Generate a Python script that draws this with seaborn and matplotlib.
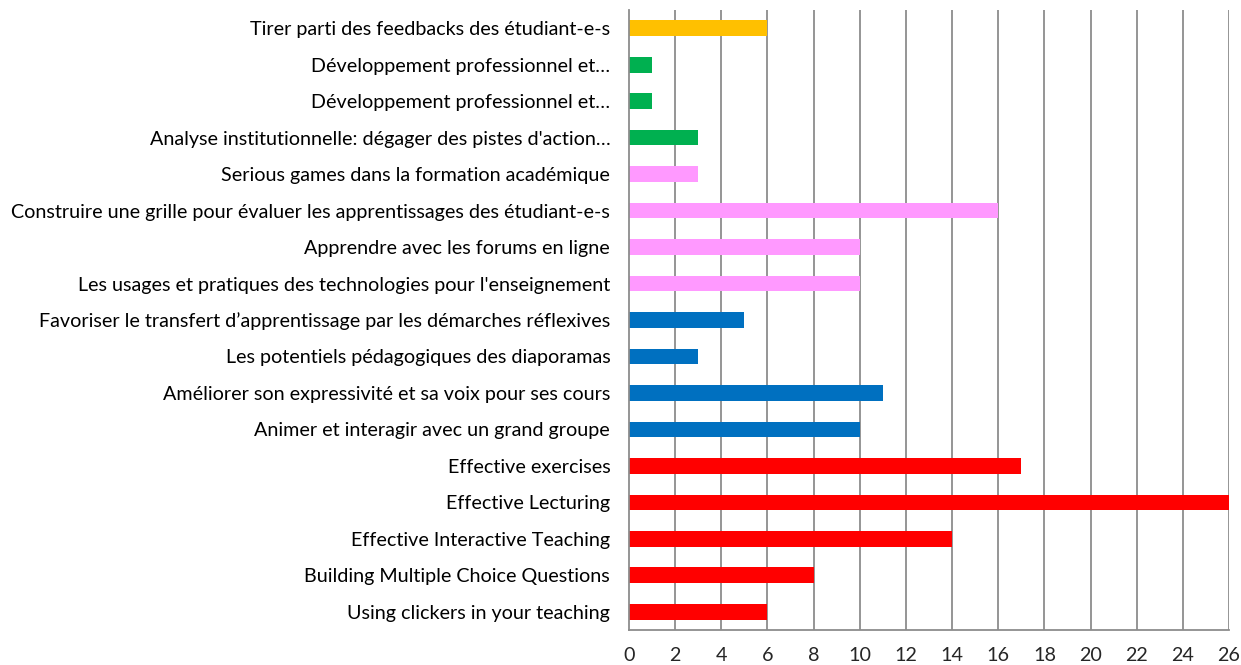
import numpy as np
import pandas as pd
import seaborn as sns
import matplotlib.pyplot as plt
from matplotlib.ticker import FixedLocator

# Categories from top to bottom
categories = [
    "Tirer parti des feedbacks des étudiant-e-s",
    "Développement professionnel et…",
    "Développement professionnel et…",
    "Analyse institutionnelle: dégager des pistes d'action…",
    "Serious games dans la formation académique",
    "Construire une grille pour évaluer les apprentissages des étudiant-e-s",
    "Apprendre avec les forums en ligne",
    "Les usages et pratiques des technologies pour l'enseignement",
    "Favoriser le transfert d’apprentissage par les démarches réflexives",
    "Les potentiels pédagogiques des diaporamas",
    "Améliorer son expressivité et sa voix pour ses cours",
    "Animer et interagir avec un grand groupe",
    "Effective exercises",
    "Effective Lecturing",
    "Effective Interactive Teaching",
    "Building Multiple Choice Questions",
    "Using clickers in your teaching",
]
counts = [6, 1, 1, 3, 3, 16, 10, 10, 5, 3, 11, 10, 17, 26, 14, 8, 6]
groups = ["feedback", "green", "green", "green",
          "pink", "pink", "pink", "pink",
          "blue", "blue", "blue", "blue",
          "red", "red", "red", "red", "red"]
group_colors = {"feedback": "#FFC000", "green": "#00B050", "pink": "#FF99FF",
                "blue": "#0070C0", "red": "#FF0000"}
xticks = list(range(0, 27, 2))

# two categories share a label, so key rows by position
df = pd.DataFrame({"Row": [f"r{i}" for i in range(len(categories))],
                   "Count": counts, "Group": groups})

sns.set_style("white")
plt.rcParams['font.family'] = ['Lato', 'DejaVu Sans']

fig = plt.figure(figsize=(12.41, 6.65), dpi=100)
ax = fig.add_axes([629 / 1241, 1 - 630 / 665, 600 / 1241, 620 / 665])

sns.barplot(data=df, y="Row", x="Count", hue="Group", palette=group_colors,
            orient="h", width=0.43, dodge=False, legend=False, saturation=1,
            linewidth=0, ax=ax)

ax.set_xlim(0, 26)
ax.set_ylim(len(categories) - 0.5, -0.5)
ax.set_xticks(xticks)
ax.set_yticks(range(len(categories)), categories)
ax.set_xlabel("")
ax.set_ylabel("")

for x in xticks[1:]:
    ax.axvline(x, color="#8c8c8c", lw=1.3, zorder=0)

for side in ["top", "right"]:
    ax.spines[side].set_visible(False)
for side in ["left", "bottom"]:
    ax.spines[side].set_color("#8c8c8c")
    ax.spines[side].set_linewidth(1.3)

ax.tick_params(axis="y", which="major", length=0, pad=13.5, labelsize=14.2, colors="#000000")
ax.tick_params(axis="x", which="major", length=4, width=1.3, color="#8c8c8c",
               pad=8, labelsize=14.2)
ax.yaxis.set_minor_locator(FixedLocator(np.arange(-0.5, len(categories), 1)))
ax.tick_params(axis="y", which="minor", length=4, width=1.3, color="#8c8c8c")

fig.savefig("out.png", dpi=100)
